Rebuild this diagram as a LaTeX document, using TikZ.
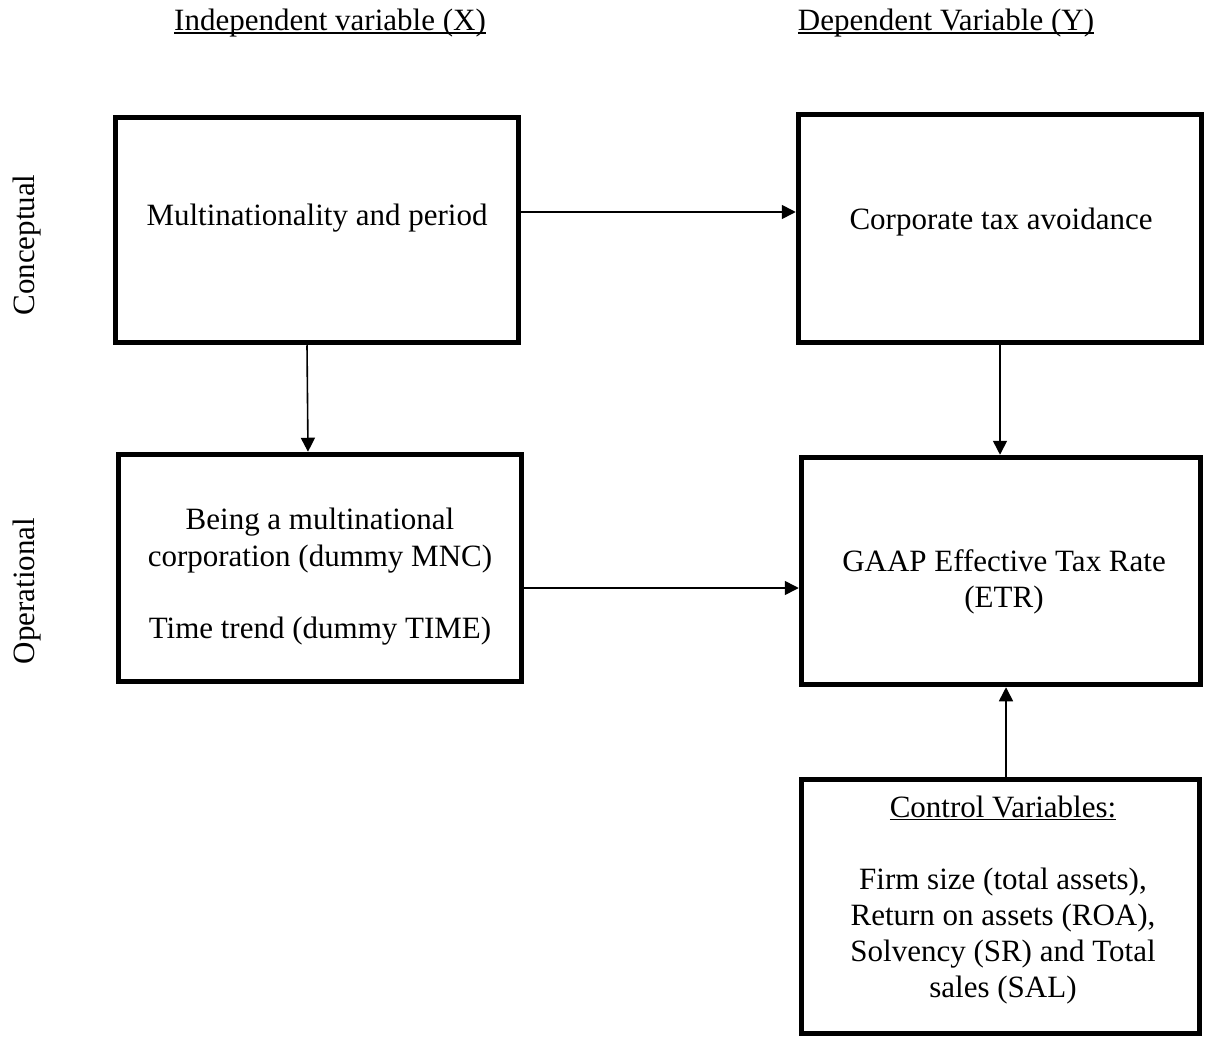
\documentclass[tikz,border=0pt]{standalone}
\usepackage{fontspec}
\setmainfont{Liberation Serif}
\usetikzlibrary{arrows.meta,calc}
\newlength\ulwd
\newcommand\ulx[1]{\settowidth\ulwd{#1}\rlap{\rule[-3pt]{\ulwd}{1.8pt}}#1}
\tikzset{
  box/.style={draw, line width=5.5pt, rectangle, inner sep=0pt},
  txt/.style={align=center, inner sep=0pt, font=\fontsize{31}{36}\selectfont},
  arr/.style={line width=1.6pt, -{Triangle[length=14pt,width=14pt]}}
}
\begin{document}
\begin{tikzpicture}[x=1pt,y=-1pt]
\useasboundingbox (0,0) rectangle (1205,1038);
% headers
\node[txt, anchor=base] (hx) at (330,31) {\ulx{Independent variable (X)}};
\node[txt, anchor=base] (hy) at (946,31) {\ulx{Dependent Variable (Y)}};
% row labels
\node[txt, rotate=90] (lc) at (27,245) {Conceptual};
\node[txt, rotate=90] (lo) at (27,591) {Operational};
% boxes
\node[box, minimum width=403pt, minimum height=225pt] (b1) at (317,230) {};
\node[box, minimum width=403pt, minimum height=228pt] (b2) at (1000,228.5) {};
\node[box, minimum width=403pt, minimum height=227pt] (b3) at (320,568) {};
\node[box, minimum width=399pt, minimum height=227pt] (b4) at (1001,571) {};
\node[box, minimum width=398pt, minimum height=254pt] (b5) at (1000.5,906.5) {};
% texts
\node[txt] (t1) at (317,218) {Multinationality and period};
\node[txt] (t2) at (1001,222) {Corporate tax avoidance};
\node[txt, font=\fontsize{31}{37}\selectfont] (t3) at (320,577) {Being a multinational\\corporation (dummy MNC)\\[35pt]Time trend (dummy TIME)};
\node[txt] (t4) at (1004,581.5) {GAAP Effective Tax Rate\\(ETR)};
\node[txt] (t5) at (1003,900) {\ulx{Control Variables:}\\[36pt]Firm size (total assets),\\Return on assets (ROA),\\Solvency (SR) and Total\\sales (SAL)};
% connectors
\coordinate (p1) at ($(b1.east)+(0,-18)$);
\draw[arr] (p1) -- (p1 -| b2.west);
\draw[arr] ($(b1.south)+(-10,0)$) -- ($(b3.north)+(-12,0)$);
\draw[arr] (b2.south) -- (b2.south |- b4.north);
\coordinate (p4) at ($(b3.east)+(0,20)$);
\draw[arr] (p4) -- (p4 -| b4.west);
\coordinate (p5) at ($(b5.north)+(5.5,0)$);
\draw[arr] (p5) -- (p5 |- b4.south);
\end{tikzpicture}
\end{document}
